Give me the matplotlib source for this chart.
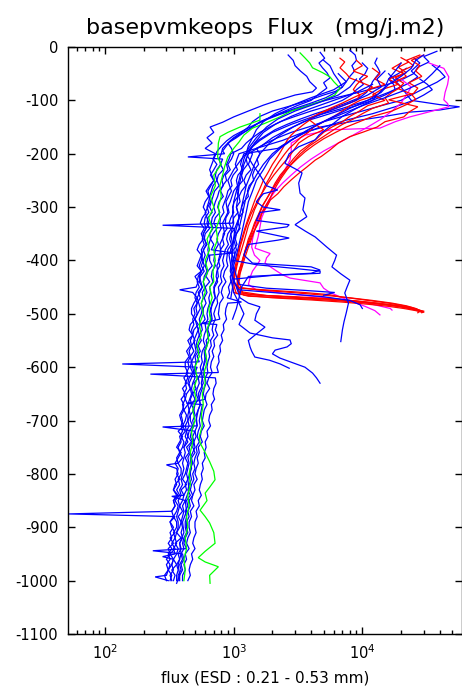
import matplotlib
matplotlib.use("Agg")
import matplotlib.pyplot as plt
from matplotlib.ticker import LogLocator, FixedLocator, NullFormatter, FixedFormatter

plt.rcParams['font.family'] = ['DejaVu Sans']
plt.rcParams['axes.unicode_minus'] = False

TITLE = "basepvmkeops  Flux   (mg/j.m2)"
XLABEL = "flux (ESD : 0.21 - 0.53 mm)"
Y_TICKS = [0, -100, -200, -300, -400, -500, -600, -700, -800, -900, -1000, -1100]
X_TICKS = [100, 1000, 10000]
X_TICK_LABELS = [r"$\mathregular{10^{2}}$", r"$\mathregular{10^{3}}$", r"$\mathregular{10^{4}}$"]
X_LIMITS = (51.5, 59000)
Y_LIMITS = (-1100, 0)

# depth bins (m) shared by the deep part of the long profiles
GRID_DEEP = [200, 210, 220, 230, 240, 250, 260, 270, 280, 290,
             300, 310, 320, 330, 340, 350, 360, 370, 380, 390,
             400, 410, 420, 430, 440, 450, 460, 470, 480, 490,
             500, 510, 520, 530, 540, 550, 560, 570, 580, 590,
             600, 610, 620, 630, 640, 650, 660, 670, 680, 690,
             700, 710, 720, 730, 740, 750, 760, 770, 780, 790,
             800, 810, 820, 830, 840, 850, 860, 870, 880, 890,
             900, 910, 920, 930, 940, 950, 960, 970, 980, 990, 1000]

# ---- deep blue profiles: top part (depth, flux), deep flux on GRID_DEEP, extra single bins (depth, flux) ----
D01_TOP = [(15,2650),(25,2900),(35,3000),(45,3300),(55,3700),(65,3900),(77,4400),(84,4100),(90,3000),(100,2200),(109,1700),(120,1300),(131,1000),(141,820),(150,655),(160,700),(170,620),(180,680),(190,600)]
D01_DEEP = [720,690,740,700,660,700,650,610,640,600, 580,610,570,550,590,560,580,540,520,560, 540,520,560,500,530,510,480,520,490,470, 470,500,460,450,480,440,460,430,450,420, 420,440,410,430,400,420,390,410,400,380, 390,410,370,400,380,360,390,370,350,370, 360,380,350,340,370,340,350,330,350,320, 330,350,320,340,310,320,300,320,310,290, 300]
D01_SPIKES = [(875,52),(455,380)]

D02_TOP = [(10,4700),(21,5100),(30,4600),(39,4900),(48,5300),(58,5600),(67,5000),(77,5300),(88,4600),(100,4000),(110,3100),(120,2500),(130,2000),(140,1600),(150,1400),(160,1200),(170,1050),(180,900),(190,960)]
D02_DEEP = [1000,960,900,940,860,880,820,790,830,770, 750,780,720,700,740,690,660,700,670,650, 650,680,630,610,650,600,620,590,610,580, 580,600,560,570,540,560,530,550,520,540, 520,500,530,490,510,480,500,470,490,460, 460,480,450,440,470,430,450,420,440,430, 420,400,430,390,410,400,380,400,370,390, 380,360,390,350,370,360,340,360,330,350, 340]
D02_SPIKES = [(594,136),(386,1000)]

D03_TOP = [(6,8000),(15,8800),(25,9000),(35,8300),(45,8700),(55,8000),(65,7500),(75,7000),(85,6200),(95,5200),(105,4000),(115,3000),(125,2300),(135,1800),(145,1500),(155,1300),(165,1100),(175,950),(185,880),(195,820)]
D03_DEEP = [850,820,790,830,760,740,770,710,690,670, 650,680,630,620,650,600,590,620,580,600, 580,560,590,550,540,570,530,550,520,510, 520,500,530,490,480,500,470,490,460,470, 460,480,450,440,460,430,420,440,410,430, 420,400,420,390,410,400,380,400,370,390, 390,370,380,360,380,350,370,360,340,360, 360,340,350,330,350,320,340,330,310,330, 320]
D03_SPIKES = [(206,440)]

D04_TOP = [(21,13000),(30,12500),(39,13200),(47,13700),(56,12800),(65,12000),(75,11500),(85,10800),(95,9500),(105,7500),(115,5800),(125,4300),(135,3300),(145,2600),(155,2100),(165,1800),(175,1550),(185,1400),(195,1300)]
D04_DEEP = [1400,1350,1300,1360,1250,1200,1240,1150,1100,1120, 1050,1080,1000,980,1020,950,930,960,900,890, 880,900,850,830,870,820,800,830,780,770, 760,780,740,720,750,700,710,680,700,670, 660,680,640,620,650,610,600,620,590,580, 570,590,560,550,570,530,540,520,530,510, 500,520,490,500,480,470,490,460,470,450, 450,460,440,430,450,420,430,410,420,400, 400]
D04_SPIKES = [(334,280),(518,560)]

D05_TOP = [(34,35000),(45,40000),(56,44000),(66,38000),(78,30000),(90,24000),(100,20000),(110,14000),(120,10000),(130,7000),(140,5000),(150,3800),(160,2800),(170,2200),(180,1800),(190,1500)]
D05_DEEP = [1600,1520,1560,1450,1400,1430,1320,1280,1300,1200, 1150,1180,1100,1080,1120,1050,1030,1060,1000,1020, 1000,970,990,940,950,910,930,890,900,870, 860,880,830,840,800,820,780,790,760,770, 740,760,720,730,700,690,710,670,680,650, 640,660,620,630,600,610,590,600,570,580, 560,570,550,540,560,530,540,510,520,500, 500,510,490,480,500,470,480,460,450,460, 440]
D05_SPIKES = [(613,225),(478,1150)]

D06_TOP = [(40,22000),(50,19000),(60,16000),(70,17500),(80,18000),(90,15000),(100,12000),(110,9000),(120,6500),(130,4800),(140,3500),(155,2600),(170,2000),(185,1650)]
D06_DEEP = [1300,1250,1280,1190,1150,1180,1090,1060,1080,1010, 980,1000,950,920,960,900,880,910,860,840, 820,840,800,790,810,760,770,740,750,720, 700,720,690,680,700,660,670,640,650,630, 620,630,600,610,590,580,600,570,560,550, 540,550,530,520,540,510,520,500,490,500, 480,490,470,460,480,450,460,440,450,430, 430,440,420,410,430,400,410,390,400,380, 380]
D06_SPIKES = [(944,235),(668,430)]

D07_TOP = [(50,16000),(60,17500),(75,20000),(88,22000),(100,24000),(108,40000),(112,57000),(118,40000),(122,23400),(130,15000),(137,9600),(150,4700),(162,3500),(174,2800),(190,2200)]
D07_DEEP = [1200,1160,1130,1170,1080,1050,1070,1000,970,940, 900,920,870,860,890,830,820,840,790,780, 760,780,740,730,750,710,700,720,680,670, 650,670,640,630,650,610,620,600,610,590, 580,590,570,560,570,550,540,550,530,520, 510,520,500,510,490,480,500,470,480,460, 460,470,450,440,460,430,440,420,430,420, 420,430,410,400,410,390,400,380,390,370, 370]
D07_SPIKES = [(712,280)]

D08_TOP = [(25,5000),(35,5600),(50,6000),(62,6500),(75,7000),(83,6200),(90,5000),(100,3800),(110,2800),(120,2000),(130,1600),(140,1400),(150,1300),(160,1150),(170,1000),(180,900),(190,820)]
D08_DEEP = [800,770,790,740,720,740,690,670,650,640, 620,640,600,590,610,580,570,590,560,570, 560,540,560,530,520,540,510,500,520,490, 500,480,490,470,480,460,470,450,460,440, 450,430,440,420,430,410,420,400,410,390, 400,390,400,380,390,370,380,360,370,360, 370,350,360,340,360,340,350,330,340,320, 340,320,330,310,330,310,320,300,310,300, 310]
D08_SPIKES = [(993,245),(783,300)]

D09_TOP = [(60,28000),(70,32000),(80,35000),(90,30000),(100,25000),(112,18000),(125,12000),(137,7500),(150,5000),(162,3300),(175,2400),(190,1500)]
D09_DEEP = [1100,1060,1030,1070,990,950,970,900,880,850, 820,840,790,780,800,760,740,760,720,710, 700,720,680,670,690,650,660,640,650,630, 620,630,600,610,590,580,600,570,560,570, 550,560,530,540,520,510,530,500,490,500, 480,490,470,460,480,450,460,440,450,440, 430,440,420,430,410,420,400,410,400,390, 400,390,400,380,390,370,380,360,370,360, 360]
D09_SPIKES = [(842,330)]

D10_TOP = [(30,10000),(40,11000),(50,10500),(60,9500),(70,10200),(80,9000),(90,8200),(100,7000),(110,5500),(120,4000),(130,3000),(140,2300),(150,1900),(160,1600),(170,1400),(180,1250),(190,1150)]
D10_DEEP = [950,920,880,900,840,810,830,770,750,720, 700,720,680,670,690,650,660,640,630,640, 620,600,620,590,580,600,570,580,560,570, 560,540,550,530,540,520,510,530,500,510, 500,490,500,480,470,480,460,470,450,440, 440,450,430,420,440,410,420,410,400,410, 400,390,400,380,390,370,380,370,360,370, 370,360,350,360,340,350,340,330,340,320, 330]
D10_SPIKES = [(955,280)]

D11 = [(20,25000),(30,28000),(45,24000),(56,27000),(70,22000),(85,16000),(100,11000),(115,7000),(130,4200),(145,2800),(160,2000),(175,1600),(190,1350),(210,1150),(230,1000),(250,900),(270,960),(290,870),(310,900),(330,820),(350,850),(370,780),(390,800),(410,740),(430,760),(450,700),(470,720),(490,660),(510,680),(530,620),(550,640),(570,590),(590,600),(610,560),(630,580),(650,530),(670,550),(690,510),(710,520),(730,480),(750,500),(770,460),(790,470),(810,440),(830,450),(850,420),(870,430),(890,400),(910,410),(930,380),(950,390),(970,370),(990,380),(1005,360)]
D12 = [(8,38000),(18,30000),(28,33000),(38,27000),(50,25000),(62,20000),(74,14000),(86,9000),(96,6000),(106,4200),(116,3100),(126,2300),(136,1800),(146,1450),(156,1200),(166,1000),(176,880),(186,800),(196,740),(210,700),(230,650),(250,700),(270,630),(290,660),(310,600),(330,640),(350,580),(370,610),(390,560),(410,590),(430,540),(450,570),(470,520),(490,550),(510,500),(530,530),(550,490),(570,510),(590,470),(610,490),(630,450),(650,470),(670,440),(690,460),(710,420),(730,440),(750,410)]

MB1 = [(30,20000),(45,18000),(60,16000),(75,15000),(90,13000),(100,12000),(115,9000),(130,7000),(150,5500),(165,4600),(174,4300),(187,3200),(200,2700),(218,2500),(230,3100),(236,3400),(255,3200),(274,3280),(283,3580),(305,3450),(318,3700),(333,3000),(345,3600),(356,4300),(375,5300),(390,6300),(400,6100),(412,5800),(425,6800),(437,8000),(450,7600),(461,7300),(480,7800),(498,7500),(515,7200),(530,7000),(552,6800)]
MB2 = [(60,9000),(75,8000),(90,6500),(105,4500),(120,3000),(135,2200),(150,1800),(170,1500),(190,1300),(210,1200),(230,1150),(250,1100),(270,1050),(290,1000),(310,980),(330,1000),(350,950),(370,980),(390,920),(410,950),(430,980),(450,1050),(470,1120),(480,1300),(487,1600),(500,1500),(512,1460),(525,1750),(540,1460),(550,1300),(562,1340),(570,1380),(581,1460),(587,1900),(594,2300),(602,2700)]
MB3 = [(70,12000),(85,9000),(100,6000),(115,4000),(130,2800),(145,2100),(160,1700),(180,1450),(200,1300),(220,1200),(240,1150),(260,1100),(280,1080),(300,1050),(320,1100),(340,1020),(360,1000),(380,1050),(400,980),(420,1000),(440,960),(460,1000),(480,1100),(500,1200),(520,1100),(536,1340),(545,2000),(549,2740),(556,2800),(562,2600),(568,2100),(575,2000),(583,2290),(592,2900),(600,3580),(611,4100),(620,4400),(630,4690)]
SB1 = [(15,30000),(25,26000),(40,24000),(55,20000),(70,16000),(85,14000),(100,11000),(115,8000),(130,6000),(145,4500),(160,3500),(175,2800),(190,2300),(210,1900),(230,1700),(250,1500),(270,1400),(290,1300),(310,1250),(330,1200),(350,1150),(370,1100),(390,1050),(410,1000),(430,1050),(445,1100),(452,1800),(456,3500),(460,6100),(465,5000)]
SB2 = [(35,40000),(50,35000),(65,30000),(80,22000),(95,15000),(110,10000),(125,7000),(140,5000),(155,3800),(170,3000),(185,2400),(200,2000),(220,1700),(240,1500),(260,1350),(280,1250),(300,1200),(320,1150),(340,1100),(360,1000),(380,950),(400,1000),(408,1500),(415,3000),(420,4700),(424,4690),(428,2000),(435,1000),(450,980),(470,950)]
SB3 = [(45,15000),(60,13000),(75,14000),(90,11000),(105,8000),(120,5500),(135,3900),(150,2900),(165,2300),(180,1900),(200,1600),(220,1450),(240,1350),(260,1250),(280,1200),(300,1150),(320,1100),(340,1050),(360,1000),(380,980),(400,960),(420,940),(440,1000),(455,1100),(462,2500),(468,5000),(475,8000),(483,9600),(490,10000)]
SB4 = [(50,6500),(65,7500),(80,6000),(95,4000),(110,2800),(125,2100),(140,1700),(155,1500),(170,1400),(185,1300),(200,1250),(220,1400),(240,1600),(260,1800),(268,2200),(275,1700),(290,1500),(300,1700),(305,2300),(310,1600),(325,1500),(333,2700),(337,2600),(345,1500),(358,2700),(362,2200),(370,1300),(390,1200),(405,1400),(412,4000),(418,4700),(424,4000),(430,1300),(450,1150),(470,1100),(490,1050),(510,980)]

G01 = [(11,3280),(21,3600),(30,3900),(39,4100),(48,4900),(56,5600),(65,6000),(77,6700),(90,6100),(100,5000),(109,3900),(120,2800),(131,2290),(143,1750),(152,1400),(165,1200),(178,1100),(190,1000),(206,900),(224,850),(240,820),(260,780),(280,800),(300,760),(320,780),(340,730),(360,750),(380,700),(400,720),(420,690),(440,700),(450,650),(470,680),(490,640),(510,660),(530,620),(550,640),(570,600),(590,620),(610,590),(630,600),(650,570),(670,580),(690,560),(710,570),(730,540),(742,548),(760,600),(777,650),(795,700),(811,716),(825,650),(836,600),(850,620),(868,548),(880,600),(892,650),(910,700),(930,716),(945,600),(957,530),(965,600),(974,760),(990,650),(1005,655)]
G02 = [(125,1600),(137,1600),(150,1120),(160,900),(168,783),(180,760),(206,750),(220,800),(240,700),(260,720),(280,660),(300,700),(320,640),(340,680),(360,620),(380,650),(400,600),(420,630),(440,580),(460,600),(480,560),(500,580),(520,540),(540,560),(560,520),(580,540),(600,500),(620,520),(640,490),(660,510),(680,480),(700,500),(720,470),(740,480),(760,460),(780,470),(800,450),(820,460),(840,440),(860,450),(880,430),(900,440),(920,420),(940,430),(960,410),(980,420),(1000,410)]

R01 = [(15,30000),(25,24000),(35,28000),(45,26000),(55,29000),(67,23000),(77,27000),(87,25000),(99,16000),(112,27000),(122,23000),(131,21000),(140,15000),(150,13000),(160,10000),(168,8000),(180,6500),(193,5600),(205,4800),(212,4300),(225,3700),(237,3200),(249,2800),(262,2450),(275,2200),(287,1920),(300,1800),(312,1650),(324,1600),(337,1500),(350,1400),(362,1340),(375,1250),(390,1200),(405,1150),(420,1100),(435,1080),(450,1050),(460,1100),(465,1500),(468,3000),(472,6000),(476,9000),(480,13000),(484,18000),(488,23000),(492,27000),(496,30000),(498,29000)]
R02 = [(30,20000),(40,17000),(50,21000),(60,16000),(70,19000),(80,14000),(90,12000),(100,15000),(110,11000),(120,9500),(130,8000),(140,7000),(150,5800),(160,5000),(170,4500),(180,4000),(195,3300),(210,2900),(225,2600),(240,2300),(255,2100),(270,1950),(285,1800),(300,1650),(315,1550),(330,1450),(345,1380),(360,1300),(375,1250),(390,1200),(405,1150),(420,1100),(435,1060),(450,1080),(455,1500),(460,2800),(465,5000),(470,8000),(475,12000),(480,17000),(485,22000),(490,26000),(494,28000)]
R03 = [(21,6700),(28,7300),(39,6700),(50,7500),(58,8000),(65,9500),(71,9000),(80,8500),(90,9600),(100,9000),(112,6700),(124,4700),(135,3800),(145,4300),(155,5000),(168,3800),(180,3200),(195,2900),(210,2600),(225,2300),(240,2050),(255,1850),(270,1700),(285,1550),(300,1450),(315,1350),(330,1280),(345,1220),(360,1170),(375,1120),(390,1090),(405,1060),(420,1020),(435,1000),(450,1010),(462,1050),(468,2500),(472,5000),(476,9000),(480,13000),(485,19000),(490,24000),(495,28000),(498,27000)]
R04 = [(15,28000),(25,22000),(35,25000),(45,20000),(55,22000),(65,18000),(75,20000),(85,17000),(95,15000),(105,16000),(115,12000),(125,10000),(135,8500),(145,7000),(155,6000),(165,5200),(175,4500),(185,3900),(200,3300),(215,2900),(230,2600),(245,2350),(260,2150),(275,2000),(290,1850),(305,1700),(320,1600),(335,1500),(350,1420),(365,1350),(380,1280),(395,1220),(410,1170),(425,1120),(440,1100),(455,1150),(465,1200),(470,2000),(474,4000),(478,7000),(482,11000),(486,16000),(490,21000),(494,26000),(497,29000)]
R05 = [(40,12000),(50,13700),(60,12500),(70,15000),(80,11000),(90,13000),(100,9600),(110,8000),(120,7000),(130,6000),(140,5000),(150,4200),(160,3800),(170,3300),(180,3000),(190,2700),(200,2500),(215,2250),(230,2050),(245,1900),(260,1750),(275,1650),(290,1550),(305,1450),(320,1380),(335,1300),(350,1250),(365,1200),(380,1150),(395,1100),(410,1060),(425,1030),(440,1000),(452,1100),(456,2000),(460,3500),(464,5500),(468,6700),(472,9000),(476,12000),(480,16000),(484,20000),(488,24000),(492,27000)]
R06 = [(25,9000),(35,10000),(45,8500),(55,11000),(65,9500),(75,12000),(85,10500),(95,8500),(105,7000),(115,5600),(125,4600),(135,4000),(145,3500),(155,3100),(165,2800),(175,2600),(190,2400),(205,2200),(220,2000),(235,1850),(250,1700),(265,1600),(280,1500),(295,1420),(310,1350),(325,1280),(340,1220),(355,1170),(370,1120),(385,1080),(400,1050),(415,1020),(430,1000),(445,980),(460,1000),(467,1300),(471,3000),(475,6000),(479,10000),(483,15000),(487,20000),(491,25000),(495,30000)]
R07 = [(20,20000),(28,23000),(38,19000),(48,22000),(58,18000),(68,21000),(78,19000),(88,24000),(98,26000),(108,22000),(120,17000),(130,12000),(140,9500),(150,7500),(160,6200),(172,5000),(184,4200),(196,3600),(210,3100),(224,2700),(238,2400),(252,2200),(266,2000),(280,1850),(295,1700),(310,1600),(325,1500),(340,1420),(355,1350),(370,1280),(385,1220),(400,1180),(415,1140),(430,1100),(445,1080),(458,1100),(466,1800),(470,3500),(474,6500),(478,10000),(482,14000),(486,19000),(490,23000),(494,27000),(497,30000)]

M01 = [(30,33000),(40,43000),(56,47000),(70,46000),(85,44000),(99,43000),(106,46000),(112,47000),(120,35000),(131,23400),(140,18000),(152,13700),(155,5800),(165,3600),(180,2800),(195,2800),(212,2740),(230,2500),(250,2200),(270,2000),(287,1920),(305,1750),(320,1650),(337,1600),(355,1550),(377,1465),(387,1920),(395,1800),(405,1750),(418,2100),(427,2400),(433,2740),(442,4690),(452,5000),(460,5600),(470,7000),(478,8500),(486,10500),(494,12500),(502,13700)]
M02 = [(60,20000),(75,24000),(90,22000),(105,20000),(120,17000),(135,14000),(150,11000),(165,8500),(180,6500),(195,5000),(210,4000),(225,3300),(240,2800),(255,2400),(270,2100),(285,1900),(300,1750),(315,1600),(330,1500),(345,1450),(360,1400),(375,1380),(390,1450),(400,1600),(410,1500),(420,1400),(430,1350),(445,1300),(455,1500),(462,2500),(468,4500),(474,7500),(480,11000),(486,14000),(490,16500),(493,17000)]

DEEP_PARTS = [(D01_TOP, D01_DEEP, D01_SPIKES), (D02_TOP, D02_DEEP, D02_SPIKES),
              (D03_TOP, D03_DEEP, D03_SPIKES), (D04_TOP, D04_DEEP, D04_SPIKES),
              (D05_TOP, D05_DEEP, D05_SPIKES), (D06_TOP, D06_DEEP, D06_SPIKES),
              (D07_TOP, D07_DEEP, D07_SPIKES), (D08_TOP, D08_DEEP, D08_SPIKES),
              (D09_TOP, D09_DEEP, D09_SPIKES), (D10_TOP, D10_DEEP, D10_SPIKES)]
GREEN = [G01, G02]
MAGENTA = [M01, M02]
RED = [R01, R02, R03, R04, R05, R06, R07]
BLUE_TOP = [MB1, MB2, MB3, SB1, SB2, SB3, SB4]

C_BLUE = (0, 0, 1)
C_GREEN = (0, 1, 0)
C_RED = (1, 0, 0)
C_MAG = (1, 0, 1)
LW = 0.9


def join(top, deep, spikes):
    assert len(deep) == len(GRID_DEEP)
    pts = list(top) + list(zip(GRID_DEEP, deep)) + list(spikes)
    pts.sort(key=lambda p: p[0])
    return pts


BLUE_DEEP = [join(*parts) for parts in DEEP_PARTS] + [D11, D12]

fig = plt.figure(figsize=(4.62, 7.0), dpi=100)
ax = fig.add_axes([68/462, 66/700, 393.5/462, 587/700])


def draw(profile, color):
    depth = [p[0] for p in profile]
    flux = [p[1] for p in profile]
    ax.plot(flux, [-d for d in depth], color=color, lw=LW, solid_joinstyle='miter')


for p in BLUE_DEEP:
    draw(p, C_BLUE)
for p in GREEN:
    draw(p, C_GREEN)
for p in MAGENTA:
    draw(p, C_MAG)
for p in RED:
    draw(p, C_RED)
for p in BLUE_TOP:
    draw(p, C_BLUE)

ax.set_xscale('log')
ax.set_xlim(*X_LIMITS)
ax.set_ylim(*Y_LIMITS)
ax.xaxis.set_major_locator(FixedLocator(X_TICKS))
ax.xaxis.set_major_formatter(FixedFormatter(X_TICK_LABELS))
ax.xaxis.set_minor_locator(LogLocator(base=10, subs=[2, 3, 4, 5, 6, 7, 8, 9]))
ax.xaxis.set_minor_formatter(NullFormatter())
ax.yaxis.set_major_locator(FixedLocator(Y_TICKS))
ax.set_yticklabels([str(v) for v in Y_TICKS])

ax.tick_params(axis='both', which='major', direction='in', length=5, width=1,
               top=True, right=True, labelsize=10.5, pad=7, colors='black')
ax.tick_params(axis='x', which='minor', direction='in', length=3, width=1,
               top=True, bottom=True)
for s in ax.spines.values():
    s.set_linewidth(1.0)

ax.set_title(TITLE, fontsize=16, pad=9)
ax.set_xlabel(XLABEL, fontsize=11, labelpad=6)

fig.savefig('out.png', dpi=100)
